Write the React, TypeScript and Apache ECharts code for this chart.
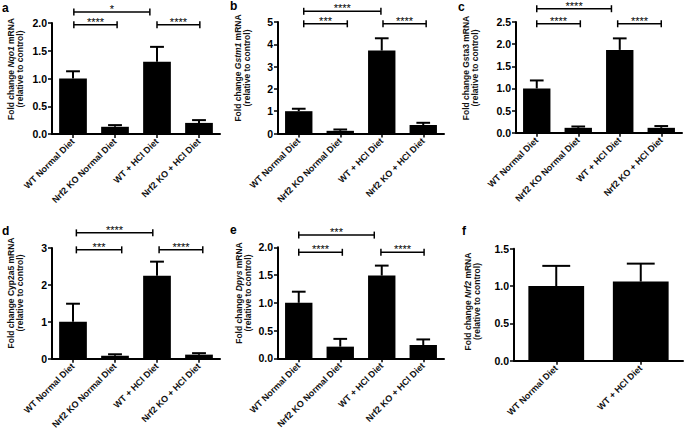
import React, { useEffect, useRef } from "react";
import * as echarts from "echarts";

// ---------- data ----------
const categories4 = ["WT Normal Diet", "Nrf2 KO Normal Diet", "WT + HCl Diet", "Nrf2 KO + HCl Diet"];
const categories2 = ["WT Normal Diet", "WT + HCl Diet"];

const nqo1Mean = [1.0, 0.13, 1.3, 0.2];
const nqo1Upper = [1.13, 0.16, 1.57, 0.25];
const gstm1Mean = [1.0, 0.12, 3.72, 0.38];
const gstm1Upper = [1.11, 0.18, 4.27, 0.48];
const gsta3Mean = [1.0, 0.11, 1.87, 0.11];
const gsta3Upper = [1.18, 0.14, 2.13, 0.15];
const cyp2a5Mean = [1.0, 0.08, 2.25, 0.11];
const cyp2a5Upper = [1.49, 0.12, 2.63, 0.15];
const dpysMean = [1.0, 0.21, 1.49, 0.24];
const dpysUpper = [1.2, 0.35, 1.67, 0.34];
const nrf2Mean = [1.0, 1.06];
const nrf2Upper = [1.27, 1.3];

// significance brackets: [from (category position), to, y value, stars]
const nqo1Brackets: [number, number, number, string][] = [
  [0.02, 1.83, 2.2, "*"],
  [0.02, 1.05, 1.97, "****"],
  [2.0, 3.02, 1.97, "****"],
];
const gstm1Brackets: [number, number, number, string][] = [
  [0.12, 1.98, 5.48, "****"],
  [0.12, 1.17, 4.92, "***"],
  [2.03, 3.07, 4.92, "****"],
];
const gsta3Brackets: [number, number, number, string][] = [
  [0.0, 1.8, 2.8, "****"],
  [0.0, 1.05, 2.46, "****"],
  [1.95, 3.0, 2.46, "****"],
];
const cyp2a5Brackets: [number, number, number, string][] = [
  [0.08, 1.9, 3.41, "****"],
  [0.08, 1.16, 2.95, "***"],
  [2.05, 3.09, 2.95, "****"],
];
const dpysBrackets: [number, number, number, string][] = [
  [0.0, 1.82, 2.22, "***"],
  [0.0, 1.05, 1.91, "****"],
  [1.98, 3.02, 1.91, "****"],
];

const yMaxes = [2, 5, 2.5, 3, 2, 1.5];
const ySteps = [0.5, 1, 0.5, 1, 0.5, 0.5];
const yDecimals = [1, 0, 1, 0, 1, 1];
const genes = ["Nqo1", "Gstm1", "Gsta3", "Cyp2a5", "Dpys", "Nrf2"];
const geneItalic = [true, true, false, false, true, true];
const panelLetters = ["a", "b", "c", "d", "e", "f"];

// ---------- layout ----------
const FONT = "'Liberation Sans', Arial, Helvetica, sans-serif";
const grids = [
  { left: 52, top: 23, width: 168, height: 111 },
  { left: 278, top: 22, width: 166, height: 111.5 },
  { left: 516, top: 22, width: 166, height: 110.7 },
  { left: 52, top: 248, width: 168, height: 110.7 },
  { left: 278, top: 247.3, width: 166, height: 111 },
  { left: 514, top: 248.7, width: 169, height: 112 },
];
const titlePos = [
  [15, 69],
  [242.5, 68],
  [470, 68],
  [15, 293],
  [243, 293],
  [472, 301.5],
];
const letterPos = [
  [2, 2],
  [230, 0],
  [458, 1],
  [2, 225],
  [230, 224],
  [462, 225],
];

export default function App() {
  const ref = useRef<HTMLDivElement>(null);

  useEffect(() => {
    document.body.style.margin = "0";
    if (!ref.current) return;
    const chart = echarts.init(ref.current, undefined, { renderer: "svg" });

    const panels = [
      { cats: categories4, mean: nqo1Mean, upper: nqo1Upper, brackets: nqo1Brackets },
      { cats: categories4, mean: gstm1Mean, upper: gstm1Upper, brackets: gstm1Brackets },
      { cats: categories4, mean: gsta3Mean, upper: gsta3Upper, brackets: gsta3Brackets },
      { cats: categories4, mean: cyp2a5Mean, upper: cyp2a5Upper, brackets: cyp2a5Brackets },
      { cats: categories4, mean: dpysMean, upper: dpysUpper, brackets: dpysBrackets },
      { cats: categories2, mean: nrf2Mean, upper: nrf2Upper, brackets: [] as [number, number, number, string][] },
    ];

    const BAR_FRAC = 0.66;

    const xAxes: any[] = [];
    const yAxes: any[] = [];
    const series: any[] = [];
    const graphics: any[] = [];

    panels.forEach((p, i) => {
      xAxes.push({
        gridIndex: i,
        type: "category",
        data: p.cats,
        axisLine: { show: true, lineStyle: { color: "#000", width: 2 } },
        axisTick: { show: true, alignWithLabel: true, length: 4, lineStyle: { color: "#000", width: 1.5 } },
        axisLabel: {
          rotate: 45,
          interval: 0,
          fontSize: 9,
          fontWeight: "bold",
          color: "#111",
          margin: 6,
          fontFamily: FONT,
        },
        splitLine: { show: false },
      });
      const dec = yDecimals[i];
      yAxes.push({
        gridIndex: i,
        type: "value",
        min: 0,
        max: yMaxes[i],
        interval: ySteps[i],
        axisLine: { show: true, lineStyle: { color: "#000", width: 2 } },
        axisTick: { show: true, length: 4, lineStyle: { color: "#000", width: 1.5 } },
        axisLabel: {
          fontSize: 10.5,
          fontWeight: "bold",
          color: "#000",
          margin: 5,
          fontFamily: FONT,
          formatter: (v: number) => v.toFixed(dec),
        },
        splitLine: { show: false },
      });
      series.push({
        type: "bar",
        xAxisIndex: i,
        yAxisIndex: i,
        data: p.mean,
        barWidth: `${BAR_FRAC * 100}%`,
        itemStyle: { color: "#000", borderColor: "#000", borderWidth: 0 },
        silent: true,
        z: 2,
      });
      series.push({
        type: "custom",
        xAxisIndex: i,
        yAxisIndex: i,
        clip: false,
        silent: true,
        z: 3,
        encode: { x: 0, y: [1, 2] },
        data: p.mean.map((m, j) => [j, m, p.upper[j]]),
        renderItem: (_params: any, api: any) => {
          const x = api.value(0);
          const p0 = api.coord([x, api.value(1)]);
          const p1 = api.coord([x, api.value(2)]);
          const band = api.size([1, 0])[0];
          const half = (band * BAR_FRAC) / 4;
          const st = { stroke: "#000", lineWidth: 2 };
          return {
            type: "group",
            children: [
              { type: "line", shape: { x1: p0[0], y1: p0[1], x2: p1[0], y2: p1[1] }, style: st },
              { type: "line", shape: { x1: p1[0] - half, y1: p1[1], x2: p1[0] + half, y2: p1[1] }, style: st },
            ],
          };
        },
      });
      if (p.brackets.length) {
        const br = p.brackets;
        series.push({
          type: "custom",
          xAxisIndex: i,
          yAxisIndex: i,
          clip: false,
          silent: true,
          z: 4,
          encode: { x: 0, y: 1 },
          data: br.map((b) => [0, b[2], b[0], b[1]]),
          renderItem: (params: any, api: any) => {
            const base = api.coord([0, api.value(1)]);
            const band = api.size([1, 0])[0];
            const x1 = base[0] + api.value(2) * band;
            const x2 = base[0] + api.value(3) * band;
            const y = base[1];
            const st = { stroke: "#000", lineWidth: 1.5 };
            return {
              type: "group",
              children: [
                { type: "line", shape: { x1, y1: y, x2, y2: y }, style: st },
                { type: "line", shape: { x1, y1: y - 3.5, x2: x1, y2: y + 3.5 }, style: st },
                { type: "line", shape: { x1: x2, y1: y - 3.5, x2, y2: y + 3.5 }, style: st },
                {
                  type: "text",
                  x: (x1 + x2) / 2,
                  y: y - 3,
                  style: {
                    text: br[params.dataIndex][3],
                    fill: "#000",
                    fontSize: 11,
                    lineHeight: 10,
                    fontFamily: FONT,
                    align: "center",
                    verticalAlign: "middle",
                  },
                },
              ],
            };
          },
        });
      }
      // y-axis title
      const gene = geneItalic[i] ? `{i|${genes[i]}}` : genes[i];
      graphics.push({
        type: "text",
        x: titlePos[i][0],
        y: titlePos[i][1],
        rotation: Math.PI / 2,
        silent: true,
        style: {
          text: `Fold change ${gene} mRNA\n(relative to control)`,
          fill: "#111",
          fontSize: 8.5,
          fontWeight: "bold",
          fontFamily: FONT,
          lineHeight: 9,
          align: "center",
          verticalAlign: "middle",
          rich: {
            i: { fontStyle: "italic", fontWeight: "bold", fontSize: 8.5, fontFamily: FONT, lineHeight: 9, fill: "#111" },
          },
        },
      });
      graphics.push({
        type: "text",
        x: letterPos[i][0],
        y: letterPos[i][1],
        silent: true,
        style: {
          text: panelLetters[i],
          fill: "#000",
          fontSize: 12,
          fontWeight: "bold",
          fontFamily: FONT,
          align: "left",
          verticalAlign: "top",
        },
      });
    });

    chart.setOption({
      animation: false,
      backgroundColor: "#fff",
      textStyle: { fontFamily: FONT },
      grid: grids.map((g) => ({ ...g, containLabel: false })),
      xAxis: xAxes,
      yAxis: yAxes,
      series,
      graphic: graphics,
    });

    return () => chart.dispose();
  }, []);

  return <div ref={ref} style={{ width: 685, height: 437 }} />;
}
